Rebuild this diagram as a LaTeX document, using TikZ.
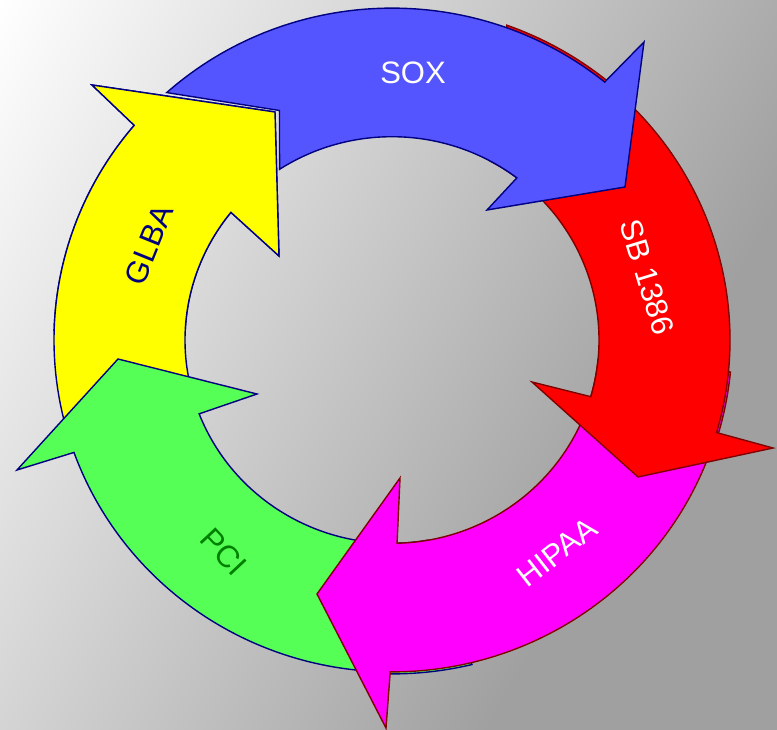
\documentclass[tikz,border=0pt]{standalone}
\usepackage{fontspec}
\setmainfont{Liberation Sans}
\definecolor{navyline}{RGB}{0,0,128}
\definecolor{darkredline}{RGB}{128,0,0}
\definecolor{bluefill}{RGB}{85,85,255}
\definecolor{greenfill}{RGB}{85,255,85}
\definecolor{yellowfill}{RGB}{255,255,0}
\definecolor{magentafill}{RGB}{255,0,255}
\definecolor{redfill}{RGB}{255,0,0}
\definecolor{pcigreen}{RGB}{0,128,0}
\definecolor{bgstart}{RGB}{255,255,255}
\definecolor{bgend}{RGB}{160,160,160}
\tikzset{
  outerR/.style={x radius=338pt, y radius=331.9pt},
  innerR/.style={x radius=207pt, y radius=203.3pt},
  seg/.style={line width=1.4pt, line join=miter},
  segnavy/.style={seg, draw=navyline},
  segred/.style={seg, draw=darkredline},
  lbl/.style={font=\fontsize{31}{31}\selectfont, inner sep=0pt}
}
\begin{document}
\begin{tikzpicture}[x=1pt, y=1pt]
\useasboundingbox (0pt,0pt) rectangle (777pt,-730pt);
% background gradient
\begin{scope}[overlay]
  \clip (0pt,0pt) rectangle (777pt,-730pt);
  \begin{scope}[transform canvas={rotate=-28.9}]
    \shade[left color=bgstart, right color=bgend] (0pt,-1200pt) rectangle (780pt,1200pt);
    \fill[bgend] (779pt,-1200pt) rectangle (1400pt,1200pt);
  \end{scope}
\end{scope}
\coordinate (C) at (392pt,-340pt);
\def\ylwpath{([shift={(C)}]196:338pt and 331.9pt)
  arc[start angle=196, end angle=139.7, outerR]
  -- (92pt,-85pt) -- (275pt,-112pt) -- (279pt,-256pt)
  -- ([shift={(C)}]141.1:207pt and 203.3pt)
  arc[start angle=141.1, end angle=196, innerR]
  -- cycle}
% yellow (GLBA)
\draw[segnavy, fill=yellowfill] \ylwpath;
% green (PCI)
\draw[segnavy, fill=greenfill] ([shift={(C)}]-76.4:340pt and 333.9pt)
  arc[start angle=-76.4, end angle=-93, x radius=340pt, y radius=333.9pt]
  -- ([shift={(C)}]-93.5:338pt and 331.9pt)
  arc[start angle=-93.5, end angle=-160.2, outerR]
  -- (17pt,-470pt) -- (118pt,-359pt) -- (257pt,-394pt)
  -- ([shift={(C)}]-158.7:207pt and 203.3pt)
  arc[start angle=-158.7, end angle=-80, innerR]
  -- cycle;
% magenta (HIPAA)
\draw[segred, fill=magentafill] ([shift={(C)}]-5.5:340pt and 333.9pt)
  arc[start angle=-5.5, end angle=-19, x radius=340pt, y radius=333.9pt]
  -- ([shift={(C)}]-19.5:338pt and 331.9pt)
  arc[start angle=-19.5, end angle=-90.3, outerR]
  -- (386pt,-728pt) -- (317pt,-594pt) -- (400pt,-478pt)
  -- ([shift={(C)}]-88.6:207pt and 203.3pt)
  arc[start angle=-88.6, end angle=-5.5, innerR]
  -- cycle;
% red (SB 1386)
\draw[segred, fill=redfill] ([shift={(C)}]70.3:340.5pt and 334.4pt)
  arc[start angle=70.3, end angle=46, x radius=340.5pt, y radius=334.4pt]
  -- ([shift={(C)}]45:338pt and 331.9pt)
  arc[start angle=45, end angle=-16.2, outerR]
  -- (773pt,-448pt) -- (638pt,-477pt) -- (532pt,-382pt)
  -- ([shift={(C)}]-16.2:207pt and 203.3pt)
  arc[start angle=-16.2, end angle=62, innerR]
  -- cycle;
% blue (SOX)
\draw[segnavy, fill=bluefill] ([shift={(C)}]131.8:338pt and 331.9pt)
  arc[start angle=131.8, end angle=51, outerR]
  -- (644pt,-42pt) -- (625pt,-187pt) -- (487pt,-210pt)
  -- ([shift={(C)}]52.9:207pt and 203.3pt)
  arc[start angle=52.9, end angle=122.9, innerR]
  -- (279.5pt,-110.5pt) -- cycle;
% yellow head again, over the blue tail
\begin{scope}
  \clip (0pt,0pt) rectangle (777pt,-330pt);
  \draw[segnavy, fill=yellowfill] \ylwpath;
\end{scope}
% labels
\node[lbl, text=white] (sox) at (413pt,-73pt) {SOX};
\node[lbl, text=white, rotate=-73] (sb) at (647pt,-277pt) {SB 1386};
\node[lbl, text=white, rotate=38] (hipaa) at (557pt,-552pt) {HIPAA};
\node[lbl, text=pcigreen, rotate=-47] (pci) at (224pt,-552pt) {PCI};
\node[lbl, text=navyline, rotate=68] (glba) at (149pt,-245pt) {GLBA};
\end{tikzpicture}
\end{document}
